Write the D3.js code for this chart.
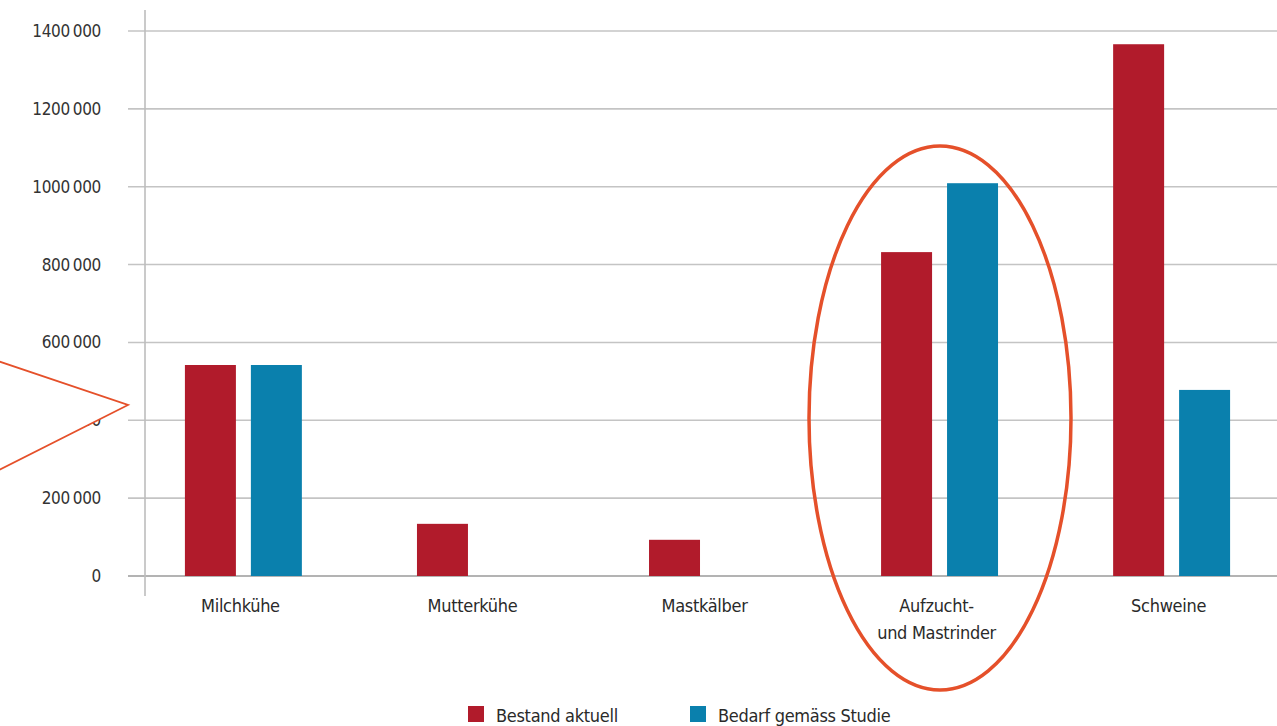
<!DOCTYPE html>
<html><head><meta charset="utf-8">
<script src="https://cdn.jsdelivr.net/npm/d3@7"></script>
<style>
body{margin:0;background:#fff;}
text{font-family:"DejaVu Sans Condensed","Liberation Sans Narrow","Open Sans",sans-serif;}
</style></head>
<body><svg id="c" width="1277" height="726"></svg>
<script>
const categories = ["Milchkühe","Mutterkühe","Mastkälber","Aufzucht-\nund Mastrinder","Schweine"];
const seriesNames = ["Bestand aktuell","Bedarf gemäss Studie"];
const bestand = [542000, 134000, 93000, 832000, 1366000];
const bedarf = [542000, null, null, 1009000, 478000];
const yTicks = [0,200000,400000,600000,800000,1000000,1200000,1400000];
const colors = ["#b11b2b","#0a80ad"];

const svg = d3.select("#c");
const y = d3.scaleLinear().domain([0,1400000]).range([576,31]);
const x = d3.scaleBand().domain(categories).range([145,1270]).paddingInner(0.496).paddingOuter(0.172);
const xs = d3.scaleBand().domain([0,1]).range([0,x.bandwidth()]).paddingInner(0.227);

const fmt = v => {
  if (v===0) return "0";
  const s = String(v);
  return s.slice(0,-3)+"\u2009"+s.slice(-3);
};

// gridlines
svg.append("g").selectAll("line").data(yTicks).join("line")
  .attr("x1",128).attr("x2",1277)
  .attr("y1",d=>y(d)).attr("y2",d=>y(d))
  .attr("stroke",d=>d===0?"#9a9a9a":"#c4c4c4").attr("stroke-width",1.6);

// y axis line
svg.append("line").attr("x1",145).attr("x2",145).attr("y1",10).attr("y2",596)
  .attr("stroke","#bdbdbd").attr("stroke-width",1.6);

// tick labels
svg.append("g").selectAll("text").data(yTicks).join("text")
  .attr("x",101).attr("y",d=>y(d)+6)
  .attr("text-anchor","end").attr("font-size",17).attr("fill","#333")
  .style("letter-spacing","-0.3px")
  .text(fmt);

// bars
const series = [bestand, bedarf];
series.forEach((vals,si)=>{
  svg.append("g").selectAll("rect").data(categories.map((c,i)=>({c,v:vals[i]})).filter(d=>d.v!=null))
    .join("rect")
    .attr("x",d=>x(d.c)+xs(si)).attr("width",xs.bandwidth())
    .attr("y",d=>y(d.v)).attr("height",d=>y(0)-y(d.v))
    .attr("fill",colors[si]);
});

// category labels
const lab = svg.append("g").selectAll("text").data(categories).join("text")
  .attr("text-anchor","middle").attr("font-size",18).attr("fill","#2a2a2a")
  .style("letter-spacing","-0.3px")
  .attr("transform",d=>`translate(${x(d)+x.bandwidth()/2-3},612)`);
lab.each(function(d){
  const t = d3.select(this);
  d.split("\n").forEach((line,i)=>{
    t.append("tspan").attr("x",0).attr("dy",i===0?0:27).text(line);
  });
});

// annotation: ellipse
svg.append("ellipse").attr("cx",940).attr("cy",418).attr("rx",131).attr("ry",272)
  .attr("fill","none").attr("stroke","#e5502a").attr("stroke-width",3.5);

// annotation: arrow wedge covering part of 400 000 label
svg.append("path").attr("d","M-5,360 L128,405 L-5,472 Z").attr("fill","#fff").attr("stroke","none");
svg.append("path").attr("d","M-5,360 L128,405 L-5,472").attr("fill","none")
  .attr("stroke","#e5502a").attr("stroke-width",1.8);

// legend
const leg = svg.append("g");
const legX = [468, 690];
seriesNames.forEach((n,i)=>{
  leg.append("rect").attr("x",legX[i]).attr("y",706).attr("width",16).attr("height",16).attr("fill",colors[i]);
  leg.append("text").attr("x",legX[i]+28).attr("y",722).attr("font-size",18).attr("fill","#2a2a2a")
    .style("letter-spacing","-0.3px").text(n);
});
</script></body></html>
